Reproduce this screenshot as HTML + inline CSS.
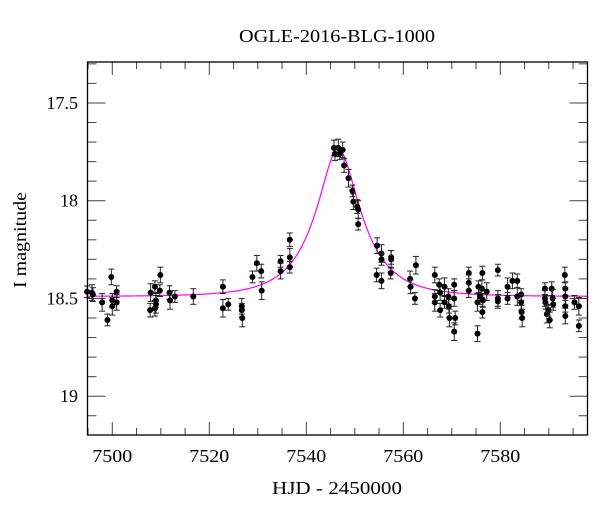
<!DOCTYPE html>
<html><head><meta charset="utf-8"><style>
body{margin:0;background:#fff}
svg{display:block;font-family:"Liberation Serif",serif}
</style></head><body>
<svg id="chart" width="600" height="512" viewBox="0 0 600 512">
<text x="337" y="42" text-anchor="middle" font-size="18" textLength="196" lengthAdjust="spacingAndGlyphs">OGLE-2016-BLG-1000</text>
<text x="337" y="494" text-anchor="middle" font-size="18" textLength="130" lengthAdjust="spacingAndGlyphs">HJD - 2450000</text>
<text transform="translate(26,240) rotate(-90)" text-anchor="middle" font-size="18" textLength="96" lengthAdjust="spacingAndGlyphs">I magnitude</text>
<g id="ticks"></g><g id="model"></g><g id="pts"></g>
<rect x="87.5" y="62" width="500" height="373" fill="none" stroke="#000" stroke-width="1.3"/>
</svg>
<script>
const times=[7494.8,7495.8,7496,7497.9,7499,7499.8,7500,7500,7500.9,7500.9,7507.8,7507.9,7508.8,7508.8,7509,7509,7509.8,7509.9,7511.8,7511.9,7512.9,7516.7,7522.8,7522.8,7523.9,7526.7,7526.7,7526.8,7528.9,7529.8,7530.7,7530.8,7534.7,7534.7,7536.6,7536.6,7536.6,7545.7,7545.9,7546.6,7546.9,7547.5,7547.8,7548.7,7549.5,7549.7,7550.5,7550.7,7550.7,7554.6,7554.5,7555.5,7555.5,7555.5,7557.5,7557.5,7557.4,7561.4,7561.5,7562.6,7562.4,7566.5,7566.5,7566.5,7567.4,7567.6,7567.6,7568.5,7568.5,7569.3,7569.4,7569.5,7570.5,7570.5,7570.7,7570.5,7573.5,7573.5,7573.5,7575.3,7575.5,7575.3,7576.3,7576.2,7576.3,7575.8,7576.4,7577.2,7579.5,7579.5,7579.5,7581.5,7581.5,7582.5,7583.5,7583.5,7584.3,7584.3,7584.4,7584.5,7589.2,7589.2,7589.3,7589.6,7589.9,7590.2,7590.6,7590.8,7590.9,7593.3,7593.4,7593.4,7593.4,7593.4,7595.3,7596.2,7596.2];
const mags=[18.466,18.47,18.48,18.52,18.61,18.39,18.51,18.54,18.465,18.52,18.56,18.47,18.44,18.55,18.51,18.53,18.46,18.38,18.47,18.51,18.49,18.49,18.44,18.55,18.53,18.54,18.56,18.60,18.39,18.32,18.36,18.46,18.31,18.36,18.20,18.29,18.34,17.73,17.76,17.73,17.76,17.74,17.82,17.885,17.95,18.005,18.03,18.045,18.12,18.23,18.38,18.27,18.30,18.41,18.29,18.30,18.37,18.40,18.44,18.33,18.50,18.38,18.49,18.52,18.43,18.47,18.56,18.44,18.52,18.49,18.54,18.60,18.43,18.50,18.60,18.67,18.37,18.42,18.46,18.52,18.44,18.68,18.37,18.45,18.57,18.49,18.51,18.465,18.355,18.50,18.515,18.44,18.50,18.41,18.41,18.49,18.48,18.52,18.57,18.60,18.45,18.50,18.52,18.58,18.56,18.61,18.45,18.50,18.53,18.38,18.45,18.49,18.54,18.59,18.52,18.54,18.64];
const errs=times.map((t,i)=>[0.03,0.04,0.035,0.045][i%4]);
const xTicks=[7500,7520,7540,7560,7580];
const yTicks=[17.5,18,18.5,19];
const model={t0:7546.6,u0:0.396,tE:9.6,fs:0.6,base:18.49};
const NS='http://www.w3.org/2000/svg';
const X=t=>112.3+(t-7500)*4.85;
const Y=m=>200.7+(m-18)*195.5;
const L=87.5,R=587.5,T=62,B=435;
function mk(tag,attrs,parent){const e=document.createElementNS(NS,tag);for(const k in attrs)e.setAttribute(k,attrs[k]);parent.appendChild(e);return e;}
const tg=document.getElementById('ticks');
for(let t=7495;t<=7598;t+=5){const maj=t%20===0;const len=maj?13:7;const x=X(t);
 const a=mk('line',{x1:x,x2:x,y1:B,y2:B-len,stroke:'#444','stroke-width':1},tg);
 
 const b=mk('line',{x1:x,x2:x,y1:T,y2:T+len,stroke:'#444','stroke-width':1},tg);
 }
xTicks.forEach(t=>{const e=mk('text',{x:X(t),y:462,'text-anchor':'middle','font-size':18,textLength:40,lengthAdjust:'spacingAndGlyphs'},tg);e.textContent=t;
 });
for(let i=3;i<=21;i++){const m=17+i*0.1;const maj=i%5===0;const len=maj?18:9;const y=Y(m);
 const a=mk('line',{x1:L,x2:L+len,y1:y,y2:y,stroke:'#444','stroke-width':1},tg);
 
 const b=mk('line',{x1:R,x2:R-len,y1:y,y2:y,stroke:'#444','stroke-width':1},tg);
 }
yTicks.forEach(m=>{const e=mk('text',{x:78,y:Y(m)+6,'text-anchor':'end','font-size':18},tg);e.textContent=String(m);
 });
let d='';
for(let t=7494.9;t<=7598;t+=0.2){const u=Math.sqrt(model.u0**2+((t-model.t0)/model.tE)**2);
 const A=(u*u+2)/(u*Math.sqrt(u*u+4));const Ao=model.fs*A+(1-model.fs);const m=model.base-2.5*Math.log10(Ao);
 d+=(d?'L':'M')+X(t).toFixed(2)+','+Y(m).toFixed(2);}
const mp=mk('path',{d:d,fill:'none',stroke:'#ff00ff','stroke-width':1.2},document.getElementById('model'));

const pg=document.getElementById('pts');
times.forEach((t,i)=>{const x=X(t),y=Y(mags[i]),e=errs[i]*195.5;
 const g=mk('g',{},pg);
 
 mk('line',{x1:x,x2:x,y1:y-e,y2:y+e,stroke:'#222','stroke-width':1},g);
 mk('line',{x1:x-3,x2:x+3,y1:y-e,y2:y-e,stroke:'#222','stroke-width':1},g);
 mk('line',{x1:x-3,x2:x+3,y1:y+e,y2:y+e,stroke:'#222','stroke-width':1},g);
 mk('circle',{cx:x,cy:y,r:3,fill:'#000'},g);});
</script>
</body></html>
